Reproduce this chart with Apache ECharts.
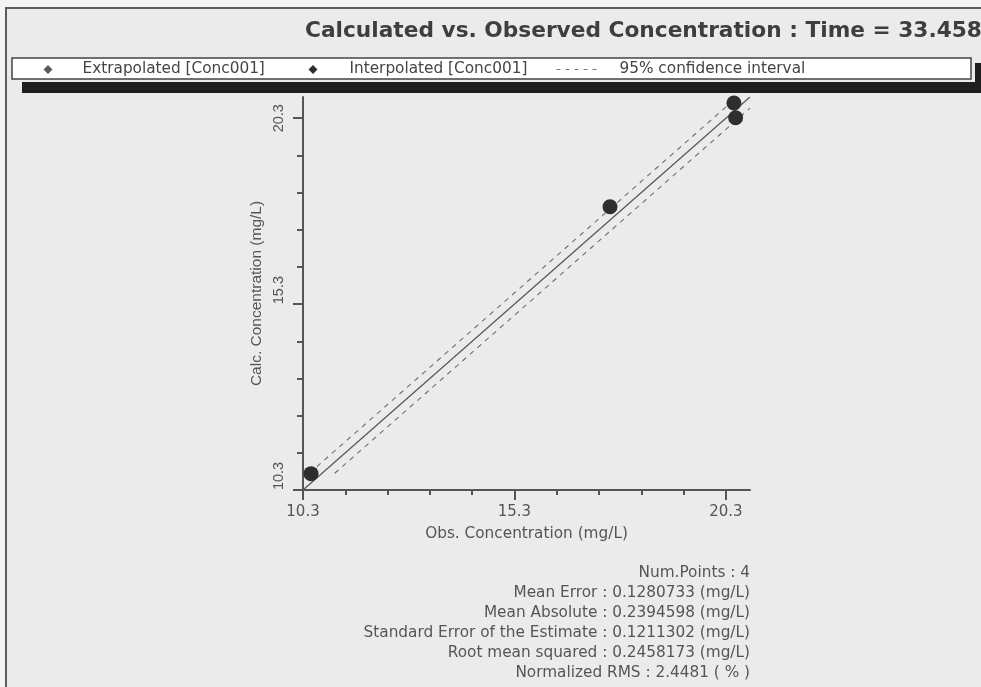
<!DOCTYPE html>
<html>
<head>
<meta charset="utf-8">
<script src="https://cdn.jsdelivr.net/npm/echarts@6/dist/echarts.min.js"></script>
<style>
html,body{margin:0;padding:0;background:#f4f4f4;}
#chart{width:981px;height:687px;}
</style>
</head>
<body>
<div id="chart"></div>
<script>
// ---- data ----
const titleText = 'Calculated vs. Observed Concentration : Time = 33.458';
const axisMin = 10.3;
const axisMax = 20.87;
const xTicks = [10.3, 11.3, 12.3, 13.3, 14.3, 15.3, 16.3, 17.3, 18.3, 19.3, 20.3];
const xLabels = [10.3, 15.3, 20.3];
const yTicks = [10.3, 11.3, 12.3, 13.3, 14.3, 15.3, 16.3, 17.3, 18.3, 19.3, 20.3];
const yLabels = [10.3, 15.3, 20.3];
const xAxisTitle = 'Obs. Concentration (mg/L)';
const yAxisTitle = 'Calc. Concentration (mg/L)';
const extrapName = 'Extrapolated [Conc001]';
const interpName = 'Interpolated [Conc001]';
const ciName = '95% confidence interval';
const extrapObs = [];
const extrapCalc = [];
const interpObs = [10.49, 17.56, 20.49, 20.53];
const interpCalc = [10.74, 17.92, 20.71, 20.31];
const identityObs = [10.3, 20.87];
const identityCalc = [10.3, 20.87];
const ciUpperObs = [10.45, 20.57];
const ciUpperCalc = [10.75, 20.87];
const ciLowerObs = [11.05, 20.87];
const ciLowerCalc = [10.75, 20.57];
const statLabels = ['Num.Points', 'Mean Error', 'Mean Absolute', 'Standard Error of the Estimate', 'Root mean squared', 'Normalized RMS'];
const statValues = ['4', '0.1280733 (mg/L)', '0.2394598 (mg/L)', '0.1211302 (mg/L)', '0.2458173 (mg/L)', '2.4481 ( % )'];

// ---- build ----
const zip = (a, b) => a.map((v, i) => [v, b[i]]);
const chart = echarts.init(document.getElementById('chart'), null, {renderer: 'canvas'});
const DJ = '"DejaVu Sans", sans-serif';
const LS = '"Liberation Sans", Arial, sans-serif';
const axisColor = '#555';
const fmt = v => Number(v).toFixed(1);

const statGraphics = statLabels.map((lab, i) => ({
  type: 'text',
  x: 750, y: 573 + i * 20,
  z: 10,
  style: {
    text: lab + ' : ' + statValues[i],
    font: '15.3px ' + DJ,
    fill: '#555',
    align: 'right',
    verticalAlign: 'middle'
  }
}));

const baseX = {
  type: 'value', min: axisMin, max: axisMax, position: 'bottom', gridIndex: 0,
  splitLine: {show: false}
};
const baseY = {
  type: 'value', min: axisMin, max: axisMax, position: 'left', gridIndex: 0,
  splitLine: {show: false}
};
const legendText = {fontFamily: DJ, fontSize: 15.3, color: '#444'};

const option = {
  backgroundColor: '#f4f4f4',
  animation: false,
  title: {
    text: titleText,
    left: 305, top: 20, padding: 0,
    textStyle: {fontFamily: DJ, fontWeight: 'bold', fontSize: 21.7, color: '#3e3e3e'}
  },
  graphic: [
    {type: 'rect', z: 0, shape: {x: 6, y: 8, width: 1000, height: 700},
     style: {fill: '#ebebeb', stroke: '#5c5c5c', lineWidth: 2}},
    {type: 'rect', z: 1, shape: {x: 22, y: 63, width: 970, height: 30},
     style: {fill: '#1e1e1e'}},
    {type: 'rect', z: 2, shape: {x: 9, y: 55, width: 966, height: 27},
     style: {fill: '#ebebeb'}},
    {type: 'rect', z: 3, shape: {x: 12, y: 58, width: 959, height: 21},
     style: {fill: '#ffffff', stroke: '#444', lineWidth: 1.5}}
  ].concat(statGraphics),
  legend: [
    {data: [extrapName], left: 43.5, top: 62, padding: 0, icon: 'diamond',
     itemWidth: 9, itemHeight: 9, selectedMode: false, z: 20,
     textStyle: Object.assign({padding: [0, 0, 0, 25]}, legendText)},
    {data: [interpName], left: 308.5, top: 62, padding: 0, icon: 'diamond',
     itemWidth: 9, itemHeight: 9, selectedMode: false, z: 20,
     textStyle: Object.assign({padding: [0, 0, 0, 27]}, legendText)},
    {data: [{name: ciName, itemStyle: {opacity: 0}}], left: 556, top: 62, padding: 0,
     itemWidth: 44, itemHeight: 9, selectedMode: false, z: 20,
     lineStyle: {color: '#777', width: 1, type: [4, 5]},
     textStyle: Object.assign({padding: [0, 0, 0, 14]}, legendText)}
  ],
  grid: {
    left: 303, top: 97, width: 447, height: 393,
    show: true, backgroundColor: '#ffffff', borderColor: '#666', borderWidth: 2
  },
  xAxis: [
    Object.assign({}, baseX, {
      axisLine: {show: true, lineStyle: {color: axisColor, width: 2}},
      axisTick: {show: true, customValues: xTicks, length: 5, lineStyle: {color: axisColor, width: 2}},
      axisLabel: {show: true, customValues: xLabels, formatter: fmt, margin: 15,
                  fontFamily: DJ, fontSize: 15, color: '#555'},
      name: xAxisTitle, nameLocation: 'middle', nameGap: 37,
      nameTextStyle: {fontFamily: DJ, fontSize: 15.3, color: '#555'}
    }),
    Object.assign({}, baseX, {
      axisLine: {show: false},
      axisTick: {show: true, customValues: xLabels, length: 10, lineStyle: {color: axisColor, width: 2}},
      axisLabel: {show: false}
    })
  ],
  yAxis: [
    Object.assign({}, baseY, {
      axisLine: {show: true, lineStyle: {color: axisColor, width: 2}},
      axisTick: {show: true, customValues: yTicks, length: 6, lineStyle: {color: axisColor, width: 2}},
      axisLabel: {
        show: true, customValues: yLabels, rotate: 90, margin: 17,
        align: 'center', verticalAlign: 'bottom',
        fontFamily: LS, fontSize: 14.5, color: '#555',
        formatter: v => (Math.abs(v - yLabels[yLabels.length - 1]) < 1e-9 ? fmt(v) : '{p|' + fmt(v) + '}'),
        rich: {p: {padding: [0, 0, 0, 28], fontFamily: LS, fontSize: 14.5, color: '#555'}}
      },
      name: yAxisTitle, nameLocation: 'middle', nameGap: 38,
      nameTextStyle: {fontFamily: LS, fontSize: 15.5, color: '#555'}
    }),
    Object.assign({}, baseY, {
      axisLine: {show: false},
      axisTick: {show: true, customValues: yLabels, length: 10, lineStyle: {color: axisColor, width: 2}},
      axisLabel: {show: false}
    })
  ],
  series: [
    {type: 'line', name: '1:1', data: zip(identityObs, identityCalc), xAxisIndex: 0, yAxisIndex: 0,
     symbol: 'none', silent: true, z: 2, lineStyle: {color: '#555', width: 1.2}},
    {type: 'line', name: ciName, data: zip(ciUpperObs, ciUpperCalc), xAxisIndex: 0, yAxisIndex: 0,
     symbol: 'none', silent: true, z: 2, itemStyle: {color: '#777'},
     lineStyle: {color: '#6e6e6e', width: 1.1, type: [5, 5]}},
    {type: 'line', name: ciName, data: zip(ciLowerObs, ciLowerCalc), xAxisIndex: 0, yAxisIndex: 0,
     symbol: 'none', silent: true, z: 2, itemStyle: {color: '#777'},
     lineStyle: {color: '#6e6e6e', width: 1.1, type: [5, 5]}},
    {type: 'scatter', name: extrapName, data: zip(extrapObs, extrapCalc), xAxisIndex: 0, yAxisIndex: 0,
     symbol: 'circle', symbolSize: 15, z: 5, itemStyle: {color: '#5a5a5a', opacity: 1}},
    {type: 'scatter', name: interpName, data: zip(interpObs, interpCalc), xAxisIndex: 0, yAxisIndex: 0,
     symbol: 'circle', symbolSize: 15, z: 5, itemStyle: {color: '#2e2e2e', opacity: 1}}
  ]
};
chart.setOption(option);
</script>
</body>
</html>
